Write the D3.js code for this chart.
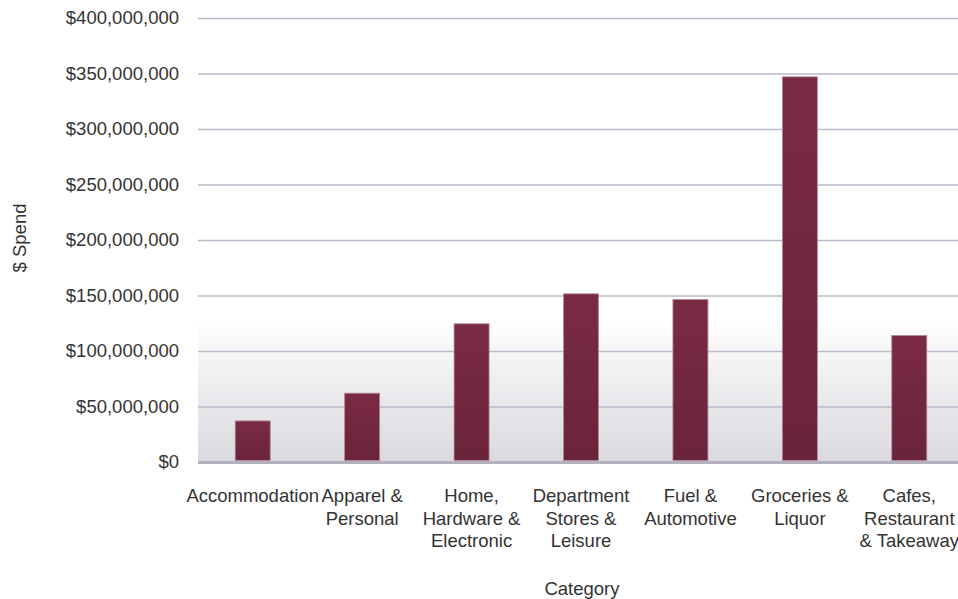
<!DOCTYPE html>
<html><head><meta charset="utf-8">
<script src="https://cdn.jsdelivr.net/npm/d3@7"></script>
<style>body{margin:0;background:#fff}svg{display:block}text{font-family:"Liberation Sans",Arial,sans-serif;fill:#333}</style>
</head><body>
<script>
const categories = ["Accommodation","Apparel &\nPersonal","Home,\nHardware &\nElectronic","Department\nStores &\nLeisure","Fuel &\nAutomotive","Groceries &\nLiquor","Cafes,\nRestaurant\n& Takeaway"];
const spend = [37000000, 62000000, 124500000, 151500000, 146500000, 347000000, 114000000];
const yTicks = [0,50000000,100000000,150000000,200000000,250000000,300000000,350000000,400000000];

const W=958,H=599;
const svg=d3.select("body").append("svg").attr("width",W).attr("height",H);
const x=d3.scaleBand().domain(categories).range([198,964]).paddingInner(0.68).paddingOuter(0.34);
const y=d3.scaleLinear().domain([0,400000000]).range([462,18]);
const fmt=v=>"$"+d3.format(",")(v);

const defs=svg.append("defs");
const bg=defs.append("linearGradient").attr("id","bg").attr("gradientUnits","userSpaceOnUse").attr("x1",0).attr("x2",0).attr("y1",y(130000000)).attr("y2",y(0));
bg.append("stop").attr("offset",0).attr("stop-color","#ffffff");
bg.append("stop").attr("offset",1).attr("stop-color","#d9d9df");
const bgr=defs.append("linearGradient").attr("id","bar").attr("x1",0).attr("x2",0).attr("y1",0).attr("y2",1);
bgr.append("stop").attr("offset",0).attr("stop-color","#7a2b44");
bgr.append("stop").attr("offset",1).attr("stop-color","#6a2439");

svg.append("rect").attr("x",198).attr("width",W-198).attr("y",y(130000000)).attr("height",y(0)-y(130000000)).attr("fill","url(#bg)");

const ax=svg.append("g").attr("transform","translate(198,0)")
  .call(d3.axisLeft(y).tickValues(yTicks).tickFormat(fmt).tickSize(-(W-198)).tickPadding(19));
ax.select(".domain").remove();
ax.selectAll(".tick line").attr("stroke","#bcb9cb").attr("stroke-width",1.5);
ax.selectAll(".tick text").attr("font-size",18.5).style("fill","#333");
ax.selectAll(".tick").filter(d=>d===0).select("line").attr("stroke","#b3b1bf").attr("stroke-width",3);

svg.selectAll("rect.bar").data(spend).enter().append("rect").attr("class","bar")
  .attr("x",(d,i)=>x(categories[i])).attr("width",x.bandwidth())
  .attr("y",d=>y(d)).attr("height",d=>y(0)-1.5-y(d))
  .attr("fill","url(#bar)").attr("stroke","#b48a99").attr("stroke-width",0.8);

const xl=svg.append("g");
categories.forEach(c=>{
  const cx=x(c)+x.bandwidth()/2;
  const t=xl.append("text").attr("text-anchor","middle").attr("font-size",18.5).attr("x",cx).attr("y",502);
  c.split("\n").forEach((l,j)=>t.append("tspan").attr("x",cx).attr("dy",j?22.5:0).text(l));
});
svg.append("text").attr("x",582).attr("y",595).attr("text-anchor","middle").attr("font-size",18.5).text("Category");
svg.append("text").attr("transform","translate(26,238) rotate(-90)").attr("text-anchor","middle").attr("font-size",18.5).text("$ Spend");
</script>
</body></html>
